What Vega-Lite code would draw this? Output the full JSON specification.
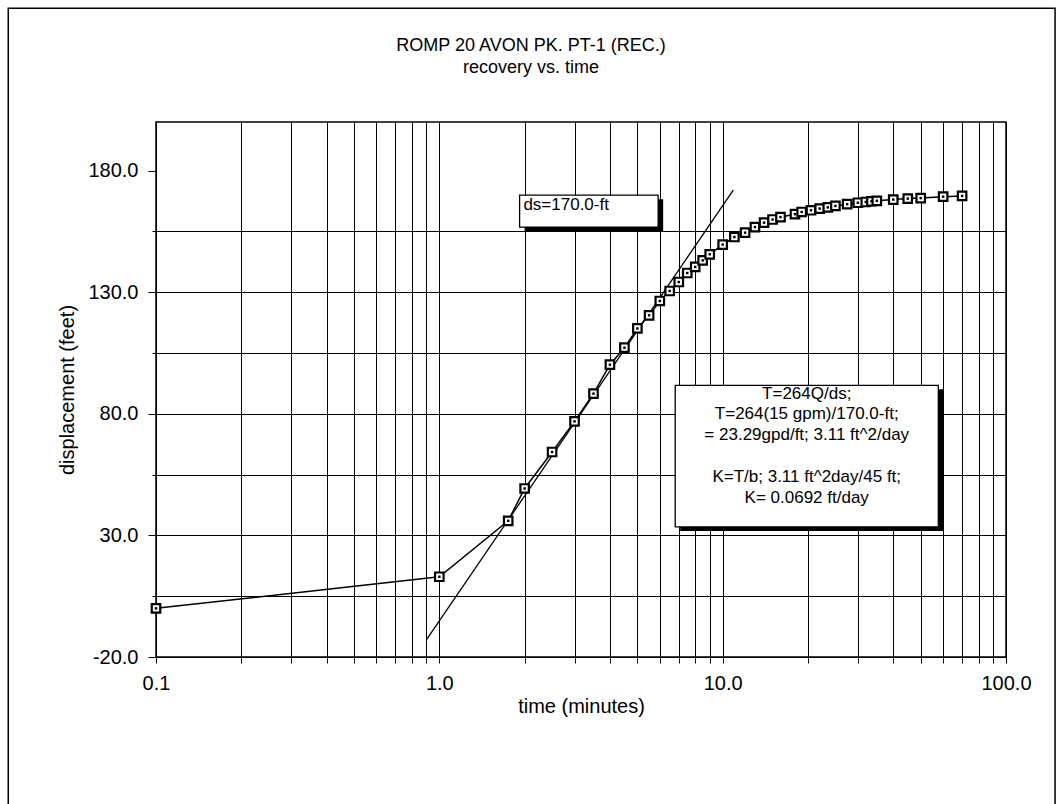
{
  "$schema": "https://vega.github.io/schema/vega-lite/v6.json",
  "width": 850,
  "height": 535,
  "autosize": {"type": "none"},
  "padding": {"left": 156, "top": 122, "right": 56, "bottom": 147},
  "background": "white",
  "title": {
    "text": "ROMP 20 AVON PK. PT-1 (REC.)",
    "subtitle": "recovery vs. time",
    "anchor": "middle",
    "frame": "group",
    "dx": -50,
    "offset": -70,
    "font": "Liberation Sans",
    "subtitleFont": "Liberation Sans",
    "fontSize": 18,
    "subtitleFontSize": 18,
    "fontWeight": "normal",
    "color": "black",
    "subtitleColor": "black",
    "subtitlePadding": 4
  },
  "config": {
    "view": {"stroke": "black", "strokeWidth": 1.5},
    "font": "Liberation Sans"
  },
  "datasets": {
    "recovery": [
      {"t": 0.1, "d": 0},
      {"t": 1.0, "d": 13},
      {"t": 1.75, "d": 36},
      {"t": 2.0, "d": 49.3},
      {"t": 2.5, "d": 64.3},
      {"t": 3.0, "d": 76.9},
      {"t": 3.5, "d": 88.3},
      {"t": 4.0, "d": 100.2},
      {"t": 4.5, "d": 107.2},
      {"t": 5.0, "d": 115.1},
      {"t": 5.5, "d": 120.5},
      {"t": 6.0, "d": 126.4},
      {"t": 6.5, "d": 130.5},
      {"t": 7.0, "d": 134.2},
      {"t": 7.5, "d": 137.9},
      {"t": 8.0, "d": 140.4},
      {"t": 8.5, "d": 143.1},
      {"t": 9.0, "d": 145.6},
      {"t": 10, "d": 149.6},
      {"t": 11, "d": 152.7},
      {"t": 12, "d": 154.5},
      {"t": 13, "d": 156.8},
      {"t": 14, "d": 158.6},
      {"t": 15, "d": 159.9},
      {"t": 16, "d": 160.9},
      {"t": 18, "d": 162.1},
      {"t": 19, "d": 163.0},
      {"t": 20.5, "d": 163.7},
      {"t": 22, "d": 164.4},
      {"t": 23.5, "d": 164.9},
      {"t": 25, "d": 165.5},
      {"t": 27.5, "d": 166.2},
      {"t": 30, "d": 166.8},
      {"t": 32, "d": 167.1},
      {"t": 33.5, "d": 167.4},
      {"t": 35, "d": 167.6},
      {"t": 40, "d": 168.1},
      {"t": 45, "d": 168.5},
      {"t": 50, "d": 168.7},
      {"t": 60, "d": 169.3},
      {"t": 70, "d": 169.6}
    ],
    "fit": [
      {"t": 0.9, "d": -13},
      {"t": 10.9, "d": 172}
    ],
    "frame": [
      {"t": 0.0301, "t2": 149, "d": 246.8, "d2": -82}
    ],
    "boxes": [
      {"t": 1.92, "t2": 5.92, "d": 169.9, "d2": 156.8},
      {"t": 6.8, "t2": 57.7, "d": 91.7, "d2": 33.5}
    ],
    "dsNote": [
      {"t": 1.98, "d": 166.0, "label": "ds=170.0-ft"}
    ],
    "calcNote": [
      {"t": 19.8, "d": 88.3, "label": "T=264Q/ds;\nT=264(15 gpm)/170.0-ft;\n= 23.29gpd/ft; 3.11 ft^2/day"},
      {"t": 19.8, "d": 54.0, "label": "K=T/b; 3.11 ft^2day/45 ft;\nK= 0.0692 ft/day"}
    ]
  },
  "encoding": {
    "x": {
      "field": "t",
      "type": "quantitative",
      "title": "time (minutes)",
      "scale": {"type": "log", "domain": [0.1, 100], "nice": false, "zero": false},
      "axis": {
        "values": [0.1, 0.2, 0.3, 0.4, 0.5, 0.6, 0.7, 0.8, 0.9, 1, 2, 3, 4, 5, 6, 7, 8, 9, 10, 20, 30, 40, 50, 60, 70, 80, 90, 100],
        "labelExpr": "indexof([0.1, 1, 10, 100], datum.value) >= 0 ? format(datum.value, '.1f') : ''",
        "grid": true,
        "gridColor": "black",
        "gridWidth": 1,
        "gridOpacity": 1,
        "domain": false,
        "tickColor": "black",
        "tickSize": 6,
        "labelFont": "Liberation Sans",
        "labelFontSize": 20,
        "labelColor": "black",
        "labelPadding": 10,
        "labelFlush": false,
        "labelOverlap": false,
        "titleFont": "Liberation Sans",
        "titleFontSize": 20,
        "titleFontWeight": "normal",
        "titleColor": "black",
        "titlePadding": 3
      }
    },
    "y": {
      "field": "d",
      "type": "quantitative",
      "title": "displacement (feet)",
      "scale": {"domain": [-20, 200], "nice": false, "zero": false},
      "axis": {
        "values": [-20, 5, 30, 55, 80, 105, 130, 155, 180],
        "labelExpr": "(datum.value + 20) % 50 == 0 ? (datum.value < 0 ? '-' + format(-datum.value, '.1f') : format(datum.value, '.1f')) : ''",
        "grid": true,
        "gridColor": "black",
        "gridWidth": 1.2,
        "gridOpacity": {"condition": {"test": "datum.value == 180", "value": 0}, "value": 1},
        "domain": false,
        "tickColor": "black",
        "tickSize": {"condition": {"test": "(datum.value + 20) % 50 == 0", "value": 8}, "value": 4},
        "labelFont": "Liberation Sans",
        "labelFontSize": 20,
        "labelColor": "black",
        "labelPadding": 10,
        "labelFlush": false,
        "labelOverlap": false,
        "titleFont": "Liberation Sans",
        "titleFontSize": 20,
        "titleFontWeight": "normal",
        "titleColor": "black",
        "titlePadding": 10
      }
    }
  },
  "layer": [
    {
      "data": {"name": "frame"},
      "mark": {"type": "rect", "fill": null, "stroke": "black", "strokeWidth": 1.5, "clip": false},
      "encoding": {"x2": {"field": "t2"}, "y2": {"field": "d2"}}
    },
    {
      "data": {"name": "fit"},
      "mark": {"type": "line", "color": "black", "strokeWidth": 1.3},
      "encoding": {}
    },
    {
      "data": {"name": "recovery"},
      "mark": {"type": "line", "color": "black", "strokeWidth": 1.5},
      "encoding": {}
    },
    {
      "data": {"name": "recovery"},
      "mark": {"type": "point", "shape": "square", "size": 72, "filled": true, "fill": "white", "stroke": "black", "strokeWidth": 2.2, "opacity": 1},
      "encoding": {}
    },
    {
      "data": {"name": "recovery"},
      "mark": {"type": "point", "shape": "square", "size": 6, "filled": true, "fill": "black", "strokeWidth": 0, "opacity": 1},
      "encoding": {}
    },
    {
      "data": {"name": "boxes"},
      "mark": {"type": "rect", "fill": "black", "xOffset": 5, "x2Offset": 5, "yOffset": 4, "y2Offset": 4},
      "encoding": {"x2": {"field": "t2"}, "y2": {"field": "d2"}}
    },
    {
      "data": {"name": "boxes"},
      "mark": {"type": "rect", "fill": "white", "stroke": "black", "strokeWidth": 1.3},
      "encoding": {"x2": {"field": "t2"}, "y2": {"field": "d2"}}
    },
    {
      "data": {"name": "dsNote"},
      "mark": {"type": "text", "align": "left", "baseline": "middle", "font": "Liberation Sans", "fontSize": 17, "color": "black"},
      "encoding": {"text": {"field": "label"}}
    },
    {
      "data": {"name": "calcNote"},
      "mark": {"type": "text", "align": "center", "baseline": "middle", "lineBreak": "\n", "lineHeight": 20.7, "font": "Liberation Sans", "fontSize": 17, "color": "black"},
      "encoding": {"text": {"field": "label"}}
    }
  ]
}
